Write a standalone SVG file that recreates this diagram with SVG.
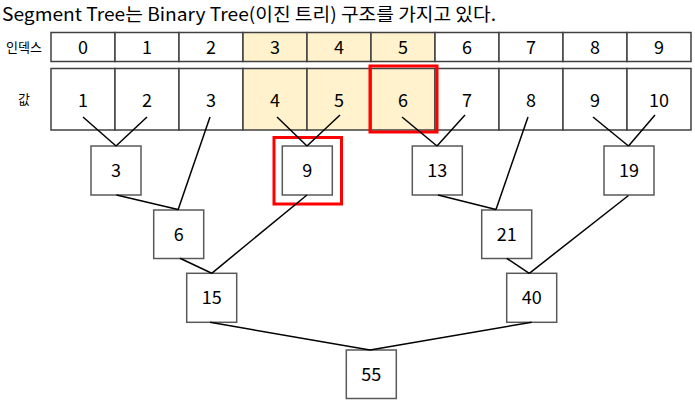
<svg xmlns="http://www.w3.org/2000/svg" width="695" height="403" viewBox="0 0 695 403">
<style>
text{font-family:"Noto Sans CJK KR","Noto Sans",sans-serif;fill:#000}
.t{font-size:18px;text-anchor:middle}
.cell{fill:#fff;stroke:#404040;stroke-width:1.5}
.hl{fill:#FFF2CC;stroke:#404040;stroke-width:1.5}
.box{fill:#fff;stroke:#595959;stroke-width:1.5}
.red{fill:none;stroke:#FF0000;stroke-width:3}
#connectors line{stroke:#000;stroke-width:1.5}
</style>
<rect width="695" height="403" fill="#fff"/>
<text x="2" y="21" font-size="18" textLength="494" lengthAdjust="spacingAndGlyphs">Segment Tree는 Binary Tree(이진 트리) 구조를 가지고 있다.</text>
<g id="index-row">
<text x="24" y="52" font-size="13" text-anchor="middle">인덱스</text>
<rect class="cell" x="51" y="32.5" width="64" height="29"/>
<rect class="cell" x="115" y="32.5" width="64" height="29"/>
<rect class="cell" x="179" y="32.5" width="64" height="29"/>
<rect class="hl" x="243" y="32.5" width="64" height="29"/>
<rect class="hl" x="307" y="32.5" width="64" height="29"/>
<rect class="hl" x="371" y="32.5" width="64" height="29"/>
<rect class="cell" x="435" y="32.5" width="64" height="29"/>
<rect class="cell" x="499" y="32.5" width="64" height="29"/>
<rect class="cell" x="563" y="32.5" width="64" height="29"/>
<rect class="cell" x="627" y="32.5" width="64" height="29"/>
<text class="t" x="83" y="53.5">0</text>
<text class="t" x="147" y="53.5">1</text>
<text class="t" x="211" y="53.5">2</text>
<text class="t" x="275" y="53.5">3</text>
<text class="t" x="339" y="53.5">4</text>
<text class="t" x="403" y="53.5">5</text>
<text class="t" x="467" y="53.5">6</text>
<text class="t" x="531" y="53.5">7</text>
<text class="t" x="595" y="53.5">8</text>
<text class="t" x="659" y="53.5">9</text>
</g>
<g id="value-row">
<text x="24" y="104" font-size="13" text-anchor="middle">값</text>
<rect class="cell" x="51" y="68.5" width="64" height="61.5"/>
<rect class="cell" x="115" y="68.5" width="64" height="61.5"/>
<rect class="cell" x="179" y="68.5" width="64" height="61.5"/>
<rect class="hl" x="243" y="68.5" width="64" height="61.5"/>
<rect class="hl" x="307" y="68.5" width="64" height="61.5"/>
<rect class="hl" x="371" y="68.5" width="64" height="61.5"/>
<rect class="cell" x="435" y="68.5" width="64" height="61.5"/>
<rect class="cell" x="499" y="68.5" width="64" height="61.5"/>
<rect class="cell" x="563" y="68.5" width="64" height="61.5"/>
<rect class="cell" x="627" y="68.5" width="64" height="61.5"/>
<text class="t" x="83" y="106.5">1</text>
<text class="t" x="147" y="106.5">2</text>
<text class="t" x="211" y="106.5">3</text>
<text class="t" x="275" y="106.5">4</text>
<text class="t" x="339" y="106.5">5</text>
<text class="t" x="403" y="106.5">6</text>
<text class="t" x="467" y="106.5">7</text>
<text class="t" x="531" y="106.5">8</text>
<text class="t" x="595" y="106.5">9</text>
<text class="t" x="659" y="106.5">10</text>
<rect class="red" x="370" y="66" width="67" height="66"/>
</g>
<g id="n3"><rect class="box" x="91" y="146" width="50" height="49"/><text class="t" x="116" y="176.5">3</text></g>
<g id="n9"><rect class="box" x="282.3" y="146" width="50" height="49"/><text class="t" x="307.3" y="176.5">9</text><rect class="red" x="274" y="137.5" width="67.5" height="66.5"/></g>
<g id="n13"><rect class="box" x="412.3" y="146" width="50" height="49"/><text class="t" x="437.3" y="176.5">13</text></g>
<g id="n19"><rect class="box" x="604" y="146" width="50" height="49"/><text class="t" x="629" y="176.5">19</text></g>
<g id="n6"><rect class="box" x="153.7" y="210" width="50" height="48.5"/><text class="t" x="178.7" y="240.5">6</text></g>
<g id="n21"><rect class="box" x="481.7" y="210" width="50" height="48.5"/><text class="t" x="506.7" y="240.5">21</text></g>
<g id="n15"><rect class="box" x="186.7" y="273.3" width="50" height="49"/><text class="t" x="211.7" y="304">15</text></g>
<g id="n40"><rect class="box" x="506.7" y="273.3" width="50" height="49"/><text class="t" x="531.7" y="304">40</text></g>
<g id="n55"><rect class="box" x="346.3" y="350" width="50" height="48.5"/><text class="t" x="371.3" y="380.5">55</text></g>
<g id="connectors">
<line x1="83" y1="117" x2="116" y2="146"/>
<line x1="147" y1="117" x2="116" y2="146"/>
<line x1="210" y1="117" x2="178" y2="210"/>
<line x1="277" y1="117" x2="307" y2="146"/>
<line x1="340" y1="115" x2="307" y2="146"/>
<line x1="402" y1="117" x2="437" y2="146"/>
<line x1="465" y1="115" x2="437" y2="146"/>
<line x1="528" y1="117" x2="496" y2="209.5"/>
<line x1="593" y1="117" x2="628.5" y2="146"/>
<line x1="655" y1="115" x2="628.5" y2="146"/>
<line x1="116.5" y1="195" x2="178" y2="209.5"/>
<line x1="307" y1="195" x2="211.7" y2="273.3"/>
<line x1="180" y1="258.3" x2="211.7" y2="273.3"/>
<line x1="438" y1="195" x2="496" y2="209.5"/>
<line x1="506.7" y1="258.3" x2="529.3" y2="273.3"/>
<line x1="628.5" y1="195.5" x2="529.3" y2="273.3"/>
<line x1="210" y1="322.3" x2="370" y2="350"/>
<line x1="531.7" y1="322.3" x2="370" y2="350"/>
</g>
</svg>
